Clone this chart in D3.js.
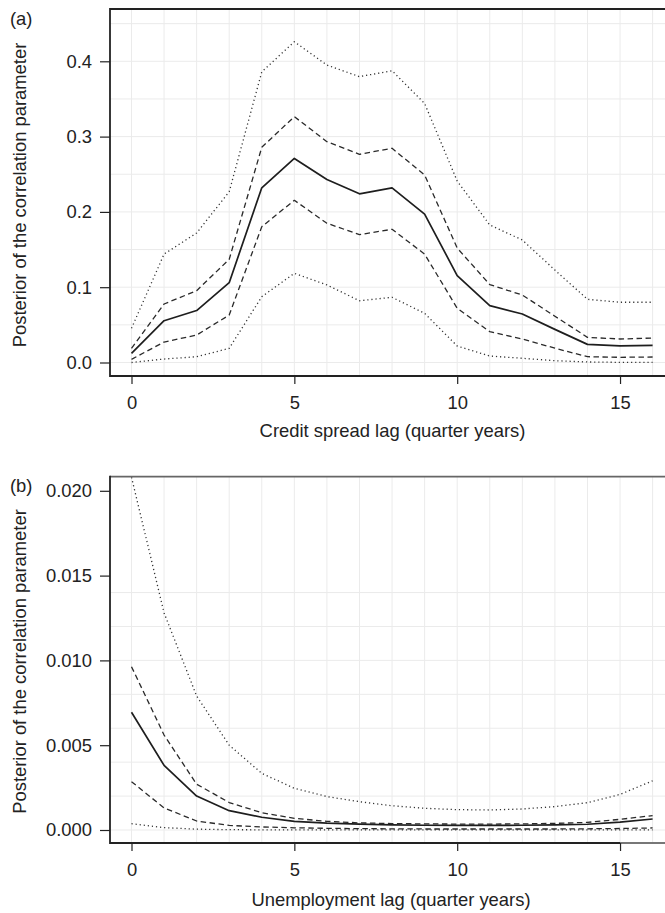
<!DOCTYPE html>
<html>
<head>
<meta charset="utf-8">
<script src="https://cdn.jsdelivr.net/npm/d3@7"></script>
<style>
  html, body { margin: 0; padding: 0; background: #fff; }
  svg { display: block; font-family: "Liberation Sans", Arial, Helvetica, sans-serif; }
</style>
</head>
<body>
<svg id="chart" width="665" height="913"></svg>
<script>
// ---------- data ----------
const lags = [0, 1, 2, 3, 4, 5, 6, 7, 8, 9, 10, 11, 12, 13, 14, 15, 16];
const xTicks = [0, 5, 10, 15];

// Panel (a): credit spread lag
const creditMedian  = [0.012, 0.0555, 0.069, 0.106, 0.232, 0.271, 0.243, 0.224, 0.232, 0.197, 0.1155, 0.0755, 0.0644, 0.044, 0.0241, 0.0222, 0.0228];
const creditUpper50 = [0.0188, 0.0777, 0.0954, 0.137, 0.2858, 0.3265, 0.2933, 0.2765, 0.2845, 0.249, 0.152, 0.1035, 0.0896, 0.0615, 0.0334, 0.0312, 0.0325];
const creditLower50 = [0.0042, 0.0272, 0.0365, 0.063, 0.1804, 0.2154, 0.1849, 0.1698, 0.1769, 0.144, 0.072, 0.041, 0.0312, 0.019, 0.0077, 0.0069, 0.0073];
const creditUpper95 = [0.0454, 0.144, 0.172, 0.2268, 0.386, 0.426, 0.395, 0.3796, 0.3875, 0.344, 0.241, 0.1826, 0.1627, 0.1228, 0.0839, 0.080, 0.080];
const creditLower95 = [0.0, 0.0046, 0.0077, 0.0188, 0.0874, 0.1184, 0.103, 0.082, 0.0866, 0.0653, 0.0219, 0.0086, 0.0056, 0.0024, 0.0007, 0.0002, 0.0002];
const creditYTicks = [0, 0.1, 0.2, 0.3, 0.4];
const creditYGrid  = [0, 0.05, 0.1, 0.15, 0.2, 0.25, 0.3, 0.35, 0.4, 0.45];

// Panel (b): unemployment lag
const unempMedian  = [0.00694, 0.00381, 0.0020, 0.00114, 0.00075, 0.00051, 0.0004, 0.00035, 0.0003, 0.00028, 0.00027, 0.00027, 0.00028, 0.0003, 0.00034, 0.00046, 0.00065];
const unempUpper50 = [0.00963, 0.0056, 0.0027, 0.00162, 0.00102, 0.00069, 0.00051, 0.00042, 0.00038, 0.00036, 0.00035, 0.00035, 0.00036, 0.00039, 0.00045, 0.00063, 0.00085];
const unempLower50 = [0.00285, 0.0013, 0.00053, 0.00027, 0.00018, 0.00013, 0.0001, 0.00008, 0.00007, 0.00006, 0.00006, 0.00006, 0.00006, 0.00006, 0.00007, 0.00009, 0.00012];
const unempUpper95 = [0.0208, 0.0128, 0.0079, 0.0050, 0.00334, 0.00246, 0.00197, 0.00167, 0.00143, 0.00128, 0.0012, 0.00118, 0.00124, 0.00138, 0.00161, 0.0021, 0.0029];
const unempLower95 = [0.00037, 0.00014, 0.00005, 0.00002, 0.00001, 0.00001, 0.00001, 0.00001, 0.00001, 0.00001, 0.00001, 0.00001, 0.00001, 0.00001, 0.00001, 0.00001, 0.00001];
const unempYTicks = [0, 0.005, 0.01, 0.015, 0.02];
const unempYGrid  = [0, 0.002, 0.004, 0.006, 0.008, 0.01, 0.012, 0.014];

const yLabel = "Posterior of the correlation parameter";

// ---------- drawing ----------
const svg = d3.select("#chart");
const FONT = 18.4;
const plotLeft = 110, plotRight = 665;
const x = d3.scaleLinear().domain([0, 16]).range([131.5, 652.6]);

const styles = {
  solid:  { dash: null,      width: 1.7, color: "#1e1e1e" },
  dashed: { dash: "5.5,3.5", width: 1.3, color: "#2a2a2a" },
  dotted: { dash: "1.2,2.9", width: 1.3, color: "#333" }
};

function panel(cfg) {
  const g = svg.append("g");
  const y = d3.scaleLinear().domain(cfg.yDomain).range(cfg.yRange);
  const top = cfg.top, bottom = cfg.bottom;

  const clipId = "clip-" + cfg.id;
  svg.append("clipPath").attr("id", clipId)
    .append("rect").attr("x", plotLeft).attr("y", top)
    .attr("width", plotRight - plotLeft).attr("height", bottom - top);

  // grid
  const grid = g.append("g").attr("clip-path", `url(#${clipId})`);
  grid.selectAll("line.v").data(lags).join("line")
    .attr("x1", d => x(d)).attr("x2", d => x(d))
    .attr("y1", top).attr("y2", bottom)
    .attr("stroke", "#ebebeb").attr("stroke-width", 1);
  grid.selectAll("line.h").data(cfg.yGrid).join("line")
    .attr("x1", plotLeft).attr("x2", plotRight)
    .attr("y1", d => y(d)).attr("y2", d => y(d))
    .attr("stroke", "#ebebeb").attr("stroke-width", 1);

  // series
  const line = d3.line().x((d, i) => x(lags[i])).y(d => y(d));
  const series = g.append("g").attr("clip-path", `url(#${clipId})`);
  cfg.series.forEach(s => {
    const st = styles[s.style];
    series.append("path").datum(s.values)
      .attr("d", line).attr("fill", "none")
      .attr("stroke", st.color).attr("stroke-width", st.width)
      .attr("stroke-dasharray", st.dash)
      .attr("stroke-linejoin", "round");
  });

  // borders
  g.append("line").attr("x1", plotLeft).attr("x2", plotRight)
    .attr("y1", top).attr("y2", top)
    .attr("stroke", cfg.topColor).attr("stroke-width", 1.8);
  g.append("line").attr("x1", plotLeft).attr("x2", plotLeft)
    .attr("y1", top - 0.9).attr("y2", bottom + 0.9)
    .attr("stroke", "#222").attr("stroke-width", 1.8);
  g.append("line").attr("x1", plotLeft).attr("x2", cfg.bottomDarkEnd)
    .attr("y1", bottom).attr("y2", bottom)
    .attr("stroke", "#222").attr("stroke-width", 1.8);
  if (cfg.bottomDarkEnd < plotRight) {
    g.append("line").attr("x1", cfg.bottomDarkEnd).attr("x2", plotRight)
      .attr("y1", bottom).attr("y2", bottom)
      .attr("stroke", "#777").attr("stroke-width", 1.8);
  }

  // axes
  const yAxis = d3.axisLeft(y).tickValues(cfg.yTicks).tickFormat(d3.format(cfg.yFormat))
    .tickSize(10).tickPadding(8);
  const ya = g.append("g").attr("transform", `translate(${plotLeft},0)`).call(yAxis);
  ya.select(".domain").remove();
  ya.selectAll(".tick line").attr("stroke", "#222").attr("stroke-width", 1.2);
  ya.selectAll(".tick text").attr("font-size", FONT).attr("fill", "#222")
    .attr("font-family", "'Liberation Sans', Arial, sans-serif");

  const xAxis = d3.axisBottom(x).tickValues(xTicks).tickFormat(d3.format("d"))
    .tickSize(8).tickPadding(12);
  const xa = g.append("g").attr("transform", `translate(0,${bottom})`).call(xAxis);
  xa.select(".domain").remove();
  xa.selectAll(".tick line").attr("stroke", "#222").attr("stroke-width", 1.2);
  xa.selectAll(".tick text").attr("font-size", FONT).attr("fill", "#222")
    .attr("font-family", "'Liberation Sans', Arial, sans-serif");

  // titles
  g.append("text").attr("x", cfg.xTitleX).attr("y", cfg.xTitleY)
    .attr("text-anchor", "middle").attr("font-size", FONT).attr("fill", "#222")
    .text(cfg.xTitle);
  g.append("text")
    .attr("transform", `translate(26,${cfg.yTitleY}) rotate(-90)`)
    .attr("text-anchor", "middle").attr("font-size", FONT).attr("fill", "#222")
    .text(yLabel);
  g.append("text").attr("x", 10).attr("y", cfg.tagY)
    .attr("font-size", FONT).attr("fill", "#222").text(cfg.tag);
}

panel({
  id: "a", tag: "(a)", tagY: 24.5,
  top: 9, bottom: 376,
  yDomain: [0, 0.4], yRange: [362.5, 61.3],
  yTicks: creditYTicks, yGrid: creditYGrid, yFormat: ".1f",
  topColor: "#222", bottomDarkEnd: 665,
  xTitle: "Credit spread lag (quarter years)", xTitleX: 392.5, xTitleY: 437,
  yTitleY: 195,
  series: [
    { values: creditUpper95, style: "dotted" },
    { values: creditLower95, style: "dotted" },
    { values: creditUpper50, style: "dashed" },
    { values: creditLower50, style: "dashed" },
    { values: creditMedian,  style: "solid" }
  ]
});

panel({
  id: "b", tag: "(b)", tagY: 491.5,
  top: 476.7, bottom: 843,
  yDomain: [0, 0.02], yRange: [830, 490.8],
  yTicks: unempYTicks, yGrid: unempYGrid, yFormat: ".3f",
  topColor: "#666", bottomDarkEnd: x(15),
  xTitle: "Unemployment lag (quarter years)", xTitleX: 391, xTitleY: 906,
  yTitleY: 661.5,
  series: [
    { values: unempUpper95, style: "dotted" },
    { values: unempLower95, style: "dotted" },
    { values: unempUpper50, style: "dashed" },
    { values: unempLower50, style: "dashed" },
    { values: unempMedian,  style: "solid" }
  ]
});
</script>
</body>
</html>
